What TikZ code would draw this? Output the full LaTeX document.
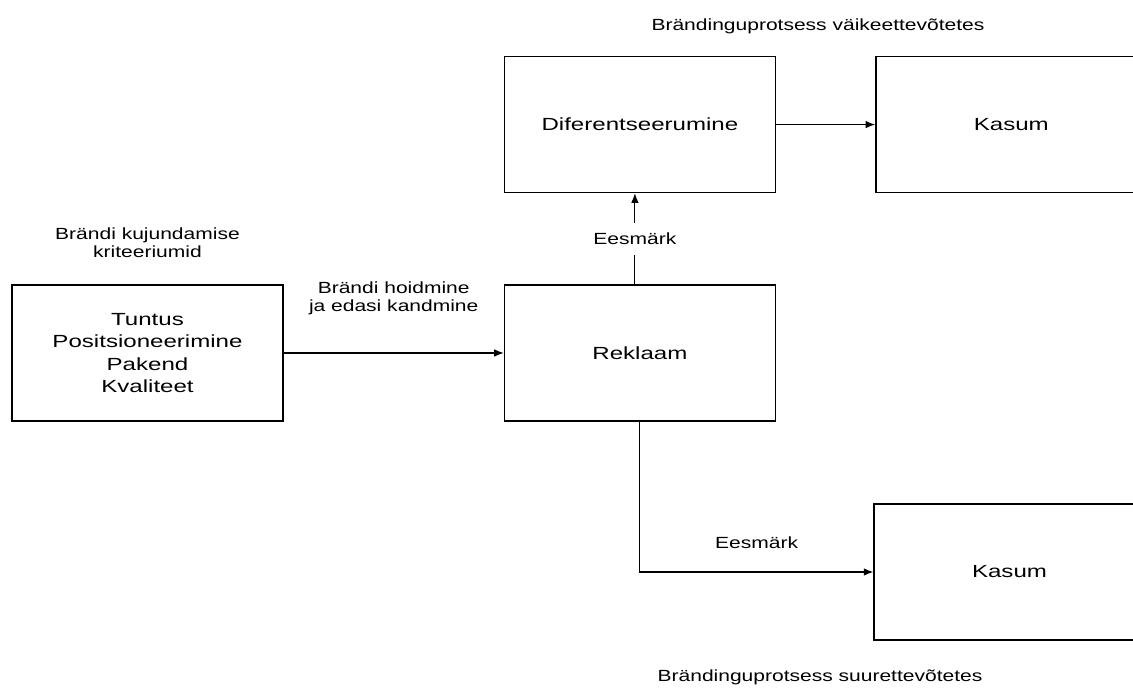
\documentclass[tikz,border=0pt]{standalone}
\usepackage{fontspec}
\setmainfont{Liberation Sans}[FakeStretch=1.3]
\newfontfamily\plokkfont{Liberation Sans}[FakeStretch=1.37]
\usetikzlibrary{positioning,arrows.meta}
\tikzset{
  blokk/.style={draw, line width=0.8pt, minimum width=5.42cm, minimum height=2.72cm,
    inner sep=0pt, align=center, font=\plokkfont\fontsize{10}{12.7}\selectfont},
  silt/.style={align=center, font=\fontsize{9.2}{10.2}\selectfont},
  nool/.style={draw, line width=0.6pt, ->, >={Latex[length=1.9mm,width=1.5mm]}}
}
\begin{document}
\begin{tikzpicture}
\useasboundingbox (0,0) rectangle (22.66,13.78);
\clip (0,0) rectangle (22.66,13.78);

\node[blokk] (tuntus) at (2.95,6.72) {Tuntus\\Positsioneerimine\\Pakend\\Kvaliteet};
\node[blokk, right=4.4cm of tuntus] (reklaam) {Reklaam};
\node[blokk, above=1.82cm of reklaam] (dif) {Diferentseerumine};
\node[blokk, right=1.98cm of dif] (kasum1) {Kasum};
\node[blokk] (kasum2) at (20.19,2.34) {Kasum};

\node[silt] (kriteeriumid) at (2.95,8.92) {Brändi kujundamise\\kriteeriumid};
\node[silt] (vaike) at (16.36,13.26) {Brändinguprotsess väikeettevõtetes};
\node[silt] (suur) at (16.4,0.23) {Brändinguprotsess suurettevõtetes};

\path[nool] (tuntus) -- node[silt, midway, yshift=1.1cm] {Brändi hoidmine\\ja edasi kandmine} (reklaam);
\path[nool] ([xshift=-0.1cm]reklaam.north) -- node[silt, fill=white, inner ysep=0.2cm] {Eesmärk} ([xshift=-0.1cm]reklaam.north |- dif.south);
\path[nool] (dif) -- (kasum1);
\path[nool] (reklaam.south) |- node[silt, pos=0.75, yshift=0.58cm] {Eesmärk} (kasum2.west);
\end{tikzpicture}
\end{document}
